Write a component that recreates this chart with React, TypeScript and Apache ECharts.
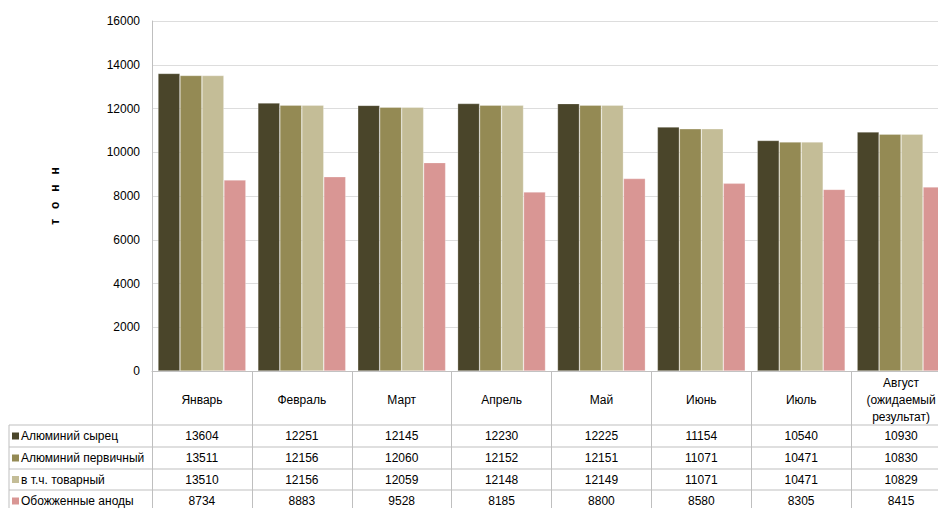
import React, { useEffect, useRef } from "react";
import * as echarts from "echarts";

const months = ["Январь", "Февраль", "Март", "Апрель", "Май", "Июнь", "Июль", "Август\n(ожидаемый\nрезультат)"];
const seriesNames = ["Алюминий сырец", "Алюминий первичный", "в т.ч. товарный", "Обожженные аноды"];
const rawAl = [13604, 12251, 12145, 12230, 12225, 11154, 10540, 10930];
const primaryAl = [13511, 12156, 12060, 12152, 12151, 11071, 10471, 10830];
const commercialAl = [13510, 12156, 12059, 12148, 12149, 11071, 10471, 10829];
const anodes = [8734, 8883, 9528, 8185, 8800, 8580, 8305, 8415];
const yTicks = { min: 0, max: 16000, interval: 2000 };
const colors = ["#4A452A", "#948A54", "#C4BD97", "#D99694"];

const FONT = 'Arial, "Liberation Sans", sans-serif';
const CHART_W = 960;
const GRID_LEFT = 152;
const GRID_TOP = 21;
const GRID_H = 350;
const GRID_W = 799;
const AXIS_Y = GRID_TOP + GRID_H; // 371
const ROW_LINES = [425, 447, 469, 490, 512];
const LINE_COLOR = "#BFBFBF";

export default function App() {
  const ref = useRef<HTMLDivElement>(null);
  useEffect(() => {
    if (!ref.current) return;
    const chart = echarts.init(ref.current, undefined, { renderer: "svg" });
    const allSeries = [rawAl, primaryAl, commercialAl, anodes];

    const tableAxes = allSeries.map((vals, r) => {
      const center = (ROW_LINES[r] + ROW_LINES[r + 1]) / 2;
      return {
        type: "category",
        gridIndex: 0,
        position: "bottom",
        offset: center - AXIS_Y,
        data: months,
        axisLine: { show: false },
        axisTick: { show: false },
        splitLine: { show: false },
        axisLabel: {
          interval: 0,
          margin: 0,
          verticalAlign: "middle",
          fontSize: 12,
          fontFamily: FONT,
          color: "#000",
          formatter: (_v: string, i: number) => String(vals[i]),
        },
      };
    });

    const graphics: any[] = [];
    ROW_LINES.forEach((y) => {
      graphics.push({
        type: "line",
        shape: { x1: 9, y1: y, x2: GRID_LEFT + GRID_W, y2: y },
        style: { stroke: LINE_COLOR, lineWidth: 1 },
        silent: true,
      });
    });
    graphics.push({
      type: "line",
      shape: { x1: 9, y1: ROW_LINES[0], x2: 9, y2: 512 },
      style: { stroke: LINE_COLOR, lineWidth: 1 },
      silent: true,
    });
    seriesNames.forEach((name, r) => {
      const center = (ROW_LINES[r] + ROW_LINES[r + 1]) / 2;
      graphics.push({
        type: "rect",
        shape: { x: 12, y: center - 3.5, width: 7, height: 7 },
        style: { fill: colors[r] },
        silent: true,
      });
      graphics.push({
        type: "text",
        x: 21,
        y: center,
        style: {
          text: name,
          fontSize: 12,
          fontFamily: FONT,
          fill: "#000",
          verticalAlign: "middle",
          align: "left",
        },
        silent: true,
      });
    });

    chart.setOption({
      animation: false,
      backgroundColor: "#fff",
      grid: { left: GRID_LEFT, top: GRID_TOP, width: GRID_W, height: GRID_H, containLabel: false },
      xAxis: [
        {
          type: "category",
          data: months,
          axisLine: { show: true, lineStyle: { color: LINE_COLOR, width: 1 } },
          axisTick: { show: true, length: 141, lineStyle: { color: LINE_COLOR, width: 1 } },
          splitLine: { show: false },
          axisLabel: {
            interval: 0,
            margin: 29,
            verticalAlign: "middle",
            fontSize: 12,
            lineHeight: 17,
            fontFamily: FONT,
            color: "#000",
          },
        },
        ...tableAxes,
      ],
      yAxis: {
        type: "value",
        min: yTicks.min,
        max: yTicks.max,
        interval: yTicks.interval,
        name: "т   о   н   н",
        nameLocation: "middle",
        nameRotate: 90,
        nameGap: 91,
        nameTextStyle: { fontSize: 12, fontWeight: "bold", fontFamily: FONT, color: "#000" },
        axisLine: { show: true, lineStyle: { color: LINE_COLOR, width: 1 } },
        axisTick: { show: false },
        splitLine: { show: true, lineStyle: { color: "#DDDDDD", width: 1 } },
        axisLabel: {
          fontSize: 12,
          fontFamily: FONT,
          color: "#000",
          margin: 12,
          formatter: (v: number) => String(v),
        },
      },
      series: allSeries.map((vals, i) => ({
        type: "bar",
        name: seriesNames[i],
        data: vals,
        xAxisIndex: 0,
        barGap: "0%",
        barCategoryGap: "12%",
        itemStyle: { color: colors[i], borderColor: "rgba(255,255,255,0.45)", borderWidth: 0.6 },
      })),
      graphic: graphics,
    });
    return () => chart.dispose();
  }, []);
  return (
    <div style={{ position: "absolute", left: 0, top: 0, width: 938, height: 508, overflow: "hidden" }}>
      <div ref={ref} style={{ width: CHART_W, height: 508 }} />
    </div>
  );
}
